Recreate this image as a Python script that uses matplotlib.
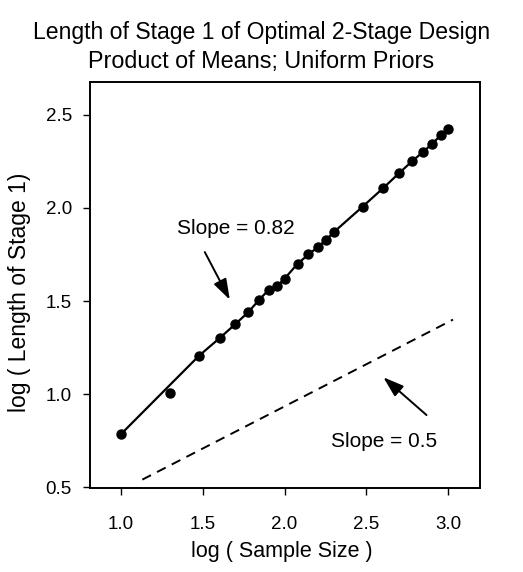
import matplotlib
matplotlib.use("Agg")
import matplotlib.pyplot as plt

plt.rcParams['font.family'] = ['Liberation Sans', 'DejaVu Sans']

# log10 of sample size
log_n = [1.000, 1.301, 1.477, 1.602, 1.699, 1.778, 1.845, 1.903, 1.954, 2.000,
         2.079, 2.146, 2.204, 2.255, 2.301, 2.477, 2.602, 2.699, 2.778, 2.845,
         2.903, 2.954, 3.000]
# log10 of length of stage 1
log_len = [0.785, 1.004, 1.206, 1.300, 1.376, 1.440, 1.507, 1.560, 1.580, 1.620,
           1.700, 1.750, 1.790, 1.830, 1.870, 2.007, 2.106, 2.186, 2.250, 2.300,
           2.345, 2.390, 2.423]
# fitted curve (slope ~0.82)
fit_x = [1.000, 1.477, 1.602, 1.699, 1.778, 1.845, 1.903, 1.954, 2.000,
         2.079, 2.146, 2.204, 2.255, 2.301, 2.477, 2.602, 2.699, 2.778, 2.845,
         2.903, 2.954, 3.000]
fit_y = [0.785, 1.206, 1.300, 1.376, 1.440, 1.507, 1.560, 1.580, 1.620,
         1.700, 1.750, 1.790, 1.830, 1.870, 2.007, 2.106, 2.186, 2.250, 2.300,
         2.345, 2.390, 2.423]
# reference line (slope 0.5)
ref_x = [1.13, 3.03]
ref_y = [0.54, 1.40]

x_ticks = [1.0, 1.5, 2.0, 2.5, 3.0]
y_ticks = [0.5, 1.0, 1.5, 2.0, 2.5]

fig = plt.figure(figsize=(5.23, 5.72), dpi=100)
ax = fig.add_axes([90/523, 84/572, 390/523, 406/572])

ax.plot(fit_x, fit_y, color='black', lw=1.6, zorder=2)
ax.plot(log_n, log_len, 'o', color='black', ms=6.5, zorder=3)
ax.plot(ref_x, ref_y, color='black', lw=1.4, ls=(0, (5, 3.5)), zorder=2)

arrow_kw = dict(arrowstyle='-|>,head_length=0.9,head_width=0.3', color='black',
                lw=1.4, mutation_scale=14, shrinkA=0, shrinkB=0)
ax.text(1.70, 1.89, 'Slope = 0.82', ha='center', va='center', fontsize=15)
ax.annotate('', xy=(1.665, 1.507), xytext=(1.512, 1.763), arrowprops=arrow_kw)
ax.text(2.607, 0.744, 'Slope = 0.5', ha='center', va='center', fontsize=15)
ax.annotate('', xy=(2.604, 1.09), xytext=(2.868, 0.887), arrowprops=arrow_kw)

ax.set_xlim(0.81, 3.195)
ax.set_ylim(0.495, 2.677)
ax.set_xticks(x_ticks)
ax.set_yticks(y_ticks)
ax.set_xticklabels([f'{v:.1f}' for v in x_ticks])
ax.set_yticklabels([f'{v:.1f}' for v in y_ticks])
ax.tick_params(direction='out', length=5, width=1, labelsize=13.5)
ax.tick_params(axis='x', pad=15)
ax.tick_params(axis='y', pad=8)
for s in ax.spines.values():
    s.set_linewidth(1.4)

fig.text(0.5, 1 - 33/572, 'Length of Stage 1 of Optimal 2-Stage Design',
         ha='center', va='center', fontsize=16.6)
fig.text(0.5, 1 - 62/572, 'Product of Means; Uniform Priors',
         ha='center', va='center', fontsize=16.8)
fig.text(20/523, 1 - 292/572, 'log ( Length of Stage 1)', rotation=90,
         ha='center', va='center', fontsize=16.5)
fig.text(282/523, 1 - 552/572, 'log ( Sample Size )',
         ha='center', va='center', fontsize=15.5)

fig.savefig('out.png', dpi=100)
